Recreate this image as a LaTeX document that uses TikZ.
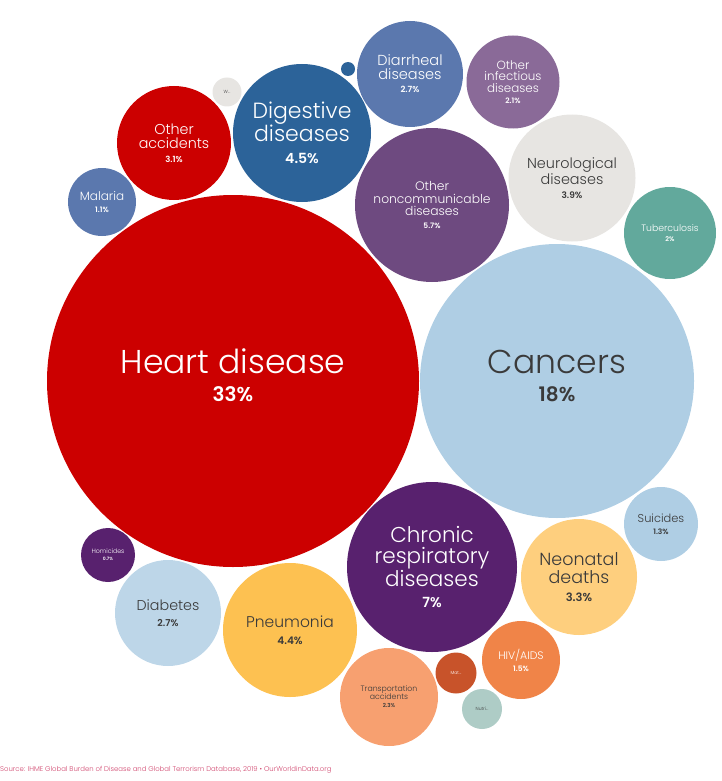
\documentclass[tikz,border=0pt]{standalone}
\usepackage{fontspec}
\setmainfont{Poppins}[UprightFont=* Light, BoldFont=* SemiBold]
\definecolor{heartred}{RGB}{204,0,0}
\definecolor{cancerblue}{RGB}{175,206,228}
\definecolor{chronicpurple}{RGB}{88,33,110}
\definecolor{neonatalyellow}{RGB}{254,207,126}
\definecolor{hivorange}{RGB}{240,132,72}
\definecolor{matrust}{RGB}{200,83,42}
\definecolor{nutrigreen}{RGB}{174,204,198}
\definecolor{transpeach}{RGB}{247,160,112}
\definecolor{pneumoyellow}{RGB}{253,193,81}
\definecolor{diabblue}{RGB}{189,214,232}
\definecolor{malariablue}{RGB}{91,120,174}
\definecolor{digestblue}{RGB}{44,99,153}
\definecolor{infectpurple}{RGB}{138,106,152}
\definecolor{noncommpurple}{RGB}{110,74,128}
\definecolor{neurogrey}{RGB}{231,229,226}
\definecolor{tbgreen}{RGB}{98,169,156}
\definecolor{darktext}{RGB}{58,58,58}
\definecolor{sourcepink}{RGB}{208,70,110}
\newcommand\pct[2]{{\fontsize{#1}{#1}\selectfont\bfseries #2\%}}
\begin{document}
\begin{tikzpicture}[x=1pt,y=-1pt,
    bubble/.style={circle,inner sep=0pt,align=center,text=white},
    darkbubble/.style={bubble,text=darktext}]
  \useasboundingbox (0,0) rectangle (721,781);
  % big ones
  \node[bubble,fill=heartred,minimum size=372,font=\fontsize{33}{34}\selectfont] (heart) at (233,381)
    {Heart disease\\[-6pt]\pct{20}{33}\\[-23pt]\mbox{}};
  \node[darkbubble,fill=cancerblue,minimum size=274,font=\fontsize{33}{34}\selectfont] (cancers) at (557,381)
    {Cancers\\[-6pt]\pct{20}{18}\\[-23pt]\mbox{}};
  \node[bubble,fill=chronicpurple,minimum size=170,font=\fontsize{21.5}{21.5}\selectfont] (chronic) at (432,567)
    {Chronic\\respiratory\\diseases\\\pct{14}{7}};
  \node[bubble,fill=noncommpurple,minimum size=154,font=\fontsize{12.3}{12.5}\selectfont] (noncomm) at (432,205)
    {Other\\noncommunicable\\diseases\\\pct{7.5}{5.7}};
  \node[bubble,fill=digestblue,minimum size=138,font=\fontsize{22}{22}\selectfont] (digest) at (302,133)
    {Digestive\\diseases\\\pct{14}{4.5}};
  \node[darkbubble,fill=pneumoyellow,minimum size=134,font=\fontsize{15.5}{17}\selectfont] (pneumo) at (290,630)
    {Pneumonia\\\pct{10.5}{4.4}};
  \node[darkbubble,fill=neurogrey,minimum size=127,font=\fontsize{14.4}{14}\selectfont] (neuro) at (572,178)
    {Neurological\\diseases\\\pct{9}{3.9}};
  \node[darkbubble,fill=neonatalyellow,minimum size=116,font=\fontsize{17.5}{18}\selectfont] (neonatal) at (579,577)
    {Neonatal\\deaths\\\pct{11.5}{3.3}};
  \node[bubble,fill=heartred,minimum size=114,font=\fontsize{14.3}{14}\selectfont] (otheracc) at (174,143)
    {Other\\accidents\\\pct{8.5}{3.1}};
  \node[darkbubble,fill=diabblue,minimum size=106,font=\fontsize{14.3}{16}\selectfont] (diabetes) at (168,613)
    {Diabetes\\\pct{9.5}{2.7}};
  \node[bubble,fill=malariablue,minimum size=106,font=\fontsize{14.5}{13.5}\selectfont] (diarrheal) at (410,74)
    {Diarrheal\\diseases\\\pct{8.5}{2.7}};
  \node[darkbubble,fill=transpeach,minimum size=98,font=\fontsize{7.8}{8}\selectfont] (transport) at (389,697)
    {Transportation\\accidents\\\pct{5.5}{2.3}};
  \node[bubble,fill=infectpurple,minimum size=93,font=\fontsize{11.9}{11.5}\selectfont] (infect) at (513,82)
    {Other\\infectious\\diseases\\\pct{7.5}{2.1}};
  \node[bubble,fill=tbgreen,minimum size=92,font=\fontsize{9.3}{10.5}\selectfont] (tb) at (670,233)
    {Tuberculosis\\\pct{6.5}{2}};
  % small ones
  \node[bubble,fill=hivorange,minimum size=78,font=\fontsize{10.9}{12}\selectfont] (hiv) at (521,660)
    {HIV/AIDS\\\pct{7.5}{1.5}};
  \node[darkbubble,fill=cancerblue,minimum size=74,font=\fontsize{11.4}{12}\selectfont] (suicides) at (661,524)
    {Suicides\\\pct{7.5}{1.3}};
  \node[bubble,fill=malariablue,minimum size=68,font=\fontsize{12}{12.5}\selectfont] (malaria) at (102,202)
    {Malaria\\\pct{7.5}{1.1}};
  \node[bubble,fill=chronicpurple,minimum size=54,font=\fontsize{6.3}{7}\selectfont] (homicides) at (108,555)
    {Homicides\\\pct{4.5}{0.7}};
  \node[bubble,fill=matrust,minimum size=41,font=\fontsize{4.5}{5}\selectfont] (maternal) at (456,673) {Mat...};
  \node[darkbubble,fill=nutrigreen,minimum size=40,font=\fontsize{4.5}{5}\selectfont] (nutri) at (482,709) {Nutri...};
  \node[darkbubble,fill=neurogrey,minimum size=29,font=\fontsize{4.5}{5}\selectfont] (w) at (227,92) {W...};
  \node[bubble,fill=digestblue,minimum size=14] (dot) at (348,69) {};
  % source line
  \node[anchor=west,inner sep=0pt,text=sourcepink,font=\fontsize{6.9}{7}\selectfont] (source) at (0,770)
    {Source: IHME Global Burden of Disease and Global Terrorism Database, 2019 • OurWorldinData.org};
\end{tikzpicture}
\end{document}
